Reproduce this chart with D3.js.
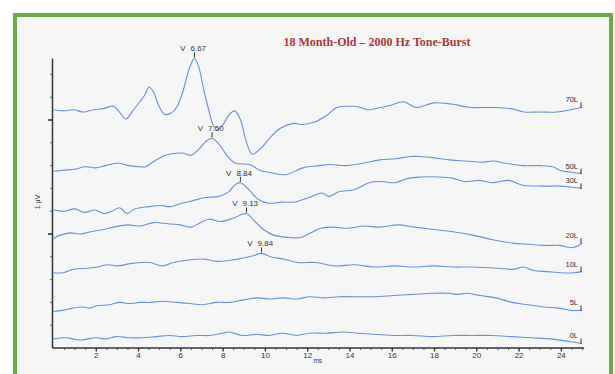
<!DOCTYPE html>
<html>
<head>
<meta charset="utf-8">
<script src="https://cdn.jsdelivr.net/npm/d3@7"></script>
<style>
  html, body { margin: 0; padding: 0; background: #ffffff; }
  svg { display: block; }
</style>
</head>
<body>
<svg id="chart" width="615" height="374"></svg>
<script>
// ABR waveforms, 18 month-old, 2000 Hz tone-burst.
// Each trace: [latency (ms), amplitude (µV, stacked display position)].
const title = "18 Month-Old \u2013 2000 Hz Tone-Burst";
const levels = ["70L", "50L", "30L", "20L", "10L", "5L", "0L"];
const timeTickLabels = [2, 4, 6, 8, 10, 12, 14, 16, 18, 20, 22, 24];
const ampTicks = [0.2, 0.4, 0.6, 0.8, 1.0, 1.2, 1.4, 1.6, 1.8, 2.0, 2.2, 2.4];
const ampMajor = [1.0, 2.0];

// Wave V latency marked on each trace (ms)
const waveVLevels = ["70L", "50L", "30L", "20L", "10L"];
const waveVLatency = [6.67, 7.50, 8.84, 9.13, 9.84];

const trace70L = [
  [0, 2.09], [0.47, 2.08], [0.95, 2.09], [1.42, 2.07], [1.89, 2.09], [2.37, 2.10],
  [2.70, 2.12], [2.86, 2.12], [3.12, 2.07], [3.42, 2.01], [3.75, 2.08], [4.08, 2.16],
  [4.32, 2.22], [4.52, 2.29], [4.72, 2.25], [4.97, 2.13], [5.25, 2.05], [5.55, 2.06],
  [5.82, 2.11], [6.12, 2.25], [6.42, 2.45], [6.67, 2.54], [6.88, 2.46], [7.10, 2.27],
  [7.34, 2.09], [7.50, 1.98], [7.72, 1.91], [8.02, 1.96], [8.32, 2.05], [8.58, 2.08],
  [8.85, 2.00], [9.09, 1.83], [9.40, 1.70], [9.80, 1.75], [10.27, 1.85], [10.75, 1.93],
  [11.36, 1.97], [11.80, 1.96], [12.31, 1.98], [12.92, 2.04], [13.40, 2.11], [14.06, 2.12],
  [14.53, 2.11], [14.82, 2.09], [15.48, 2.11], [15.95, 2.13], [16.57, 2.16], [17.14, 2.11],
  [17.99, 2.15], [18.79, 2.14], [19.74, 2.11], [20.69, 2.11], [21.63, 2.10], [22.25, 2.07],
  [23.05, 2.07], [23.81, 2.07], [24.47, 2.09], [25.0, 2.11]
];
const trace50L = [
  [0, 1.55], [0.55, 1.56], [1.04, 1.57], [1.51, 1.59], [1.99, 1.58], [2.46, 1.60],
  [3.03, 1.62], [3.60, 1.60], [4.07, 1.59], [4.36, 1.59], [4.69, 1.63], [5.30, 1.69],
  [6.11, 1.71], [6.49, 1.69], [6.91, 1.75], [7.20, 1.81], [7.50, 1.84], [7.86, 1.78],
  [8.24, 1.68], [8.62, 1.62], [9.28, 1.61], [9.75, 1.56], [10.22, 1.54], [10.98, 1.52],
  [11.79, 1.58], [12.59, 1.60], [13.07, 1.61], [13.82, 1.60], [14.63, 1.62], [15.43, 1.65],
  [16.19, 1.66], [16.85, 1.68], [17.33, 1.68], [17.94, 1.67], [18.75, 1.65], [19.50, 1.64],
  [20.31, 1.63], [20.78, 1.64], [21.40, 1.62], [22.20, 1.60], [23.01, 1.60], [23.62, 1.59],
  [23.95, 1.56], [24.57, 1.54], [25.0, 1.53]
];
const trace30L = [
  [0, 1.21], [0.53, 1.20], [1.00, 1.22], [1.48, 1.19], [1.95, 1.21], [2.38, 1.18],
  [2.76, 1.20], [3.13, 1.23], [3.47, 1.18], [3.84, 1.22], [4.51, 1.24], [5.12, 1.25],
  [5.50, 1.24], [6.07, 1.27], [6.54, 1.29], [7.16, 1.32], [7.82, 1.33], [8.29, 1.37],
  [8.58, 1.43], [8.84, 1.45], [9.24, 1.39], [9.71, 1.30], [10.19, 1.27], [10.80, 1.28],
  [11.42, 1.28], [12.08, 1.32], [12.70, 1.36], [13.03, 1.33], [13.50, 1.37], [14.26, 1.39],
  [14.92, 1.45], [15.54, 1.46], [16.15, 1.45], [16.81, 1.49], [17.43, 1.50], [18.23, 1.50],
  [18.85, 1.49], [19.47, 1.46], [20.13, 1.47], [20.74, 1.45], [21.55, 1.47], [22.16, 1.43],
  [23.11, 1.42], [23.92, 1.42], [24.54, 1.41], [25.0, 1.40]
];
const trace20L = [
  [0, 0.96], [0.33, 0.99], [0.80, 1.01], [1.28, 1.00], [1.75, 1.02], [2.37, 1.04],
  [2.84, 1.06], [3.50, 1.08], [4.12, 1.07], [4.73, 1.10], [5.40, 1.09], [6.01, 1.08],
  [6.49, 1.06], [6.96, 1.10], [7.34, 1.13], [7.91, 1.11], [8.52, 1.14], [9.13, 1.18],
  [9.47, 1.12], [9.94, 1.04], [10.41, 0.99], [11.08, 0.97], [11.69, 0.97], [12.17, 1.01],
  [12.64, 1.05], [13.25, 1.06], [13.92, 1.05], [14.67, 1.07], [15.48, 1.06], [16.28, 1.08],
  [17.10, 1.06], [17.99, 1.04], [18.90, 1.02], [19.83, 0.99], [20.78, 0.95], [21.73, 0.92],
  [22.49, 0.91], [23.20, 0.90], [23.95, 0.90], [24.47, 0.88], [24.85, 0.90], [25.0, 0.92]
];
const trace10L = [
  [0, 0.66], [0.46, 0.66], [0.93, 0.69], [1.60, 0.70], [2.07, 0.71], [2.54, 0.73],
  [3.02, 0.72], [3.63, 0.74], [4.10, 0.75], [4.58, 0.75], [5.15, 0.72], [5.67, 0.75],
  [6.33, 0.77], [7.09, 0.78], [7.75, 0.76], [8.36, 0.77], [8.98, 0.79], [9.45, 0.81],
  [9.84, 0.83], [10.26, 0.80], [10.88, 0.78], [11.54, 0.75], [12.39, 0.75], [13.33, 0.72],
  [14.23, 0.73], [15.18, 0.71], [16.13, 0.72], [17.03, 0.71], [17.97, 0.72], [18.92, 0.71],
  [19.82, 0.71], [21.00, 0.70], [21.76, 0.69], [22.23, 0.71], [22.71, 0.68], [23.37, 0.67],
  [23.99, 0.66], [24.60, 0.66], [25.0, 0.67]
];
const trace5L = [
  [0, 0.32], [0.43, 0.33], [0.90, 0.35], [1.38, 0.36], [1.71, 0.35], [2.04, 0.37],
  [2.66, 0.38], [3.13, 0.40], [3.60, 0.39], [4.08, 0.40], [4.55, 0.40], [5.16, 0.41],
  [5.83, 0.40], [6.44, 0.39], [7.06, 0.38], [7.72, 0.40], [8.34, 0.40], [8.95, 0.42],
  [9.62, 0.44], [10.23, 0.43], [10.86, 0.44], [11.51, 0.43], [12.12, 0.45], [12.80, 0.44],
  [13.50, 0.45], [14.21, 0.45], [15.16, 0.45], [16.10, 0.46], [17.00, 0.47], [17.95, 0.48],
  [18.70, 0.48], [19.08, 0.47], [19.56, 0.48], [20.17, 0.46], [20.93, 0.44], [21.68, 0.40],
  [22.44, 0.38], [23.15, 0.36], [23.91, 0.35], [24.48, 0.33], [25.0, 0.33]
];
const trace0L = [
  [0, 0.08], [0.60, 0.09], [1.22, 0.07], [2.02, 0.09], [2.49, 0.08], [2.97, 0.10],
  [3.58, 0.09], [4.20, 0.09], [4.86, 0.10], [5.48, 0.11], [6.09, 0.10], [6.75, 0.11],
  [7.37, 0.11], [7.99, 0.13], [8.32, 0.14], [8.93, 0.11], [9.60, 0.12], [10.21, 0.11],
  [10.83, 0.13], [11.49, 0.11], [12.11, 0.13], [12.90, 0.13], [13.67, 0.14], [14.40, 0.13],
  [15.13, 0.12], [16.08, 0.11], [16.98, 0.11], [17.93, 0.10], [18.88, 0.11], [19.77, 0.11],
  [20.72, 0.11], [21.67, 0.10], [22.57, 0.09], [23.51, 0.08], [24.27, 0.06], [25.0, 0.04]
];
const traces = [trace70L, trace50L, trace30L, trace20L, trace10L, trace5L, trace0L];

const svg = d3.select("#chart");

// Framed panel
svg.append("rect")
  .attr("x", 15).attr("y", 15)
  .attr("width", 596).attr("height", 380)
  .attr("fill", "#f6f6f6")
  .attr("stroke", "#6aab4e")
  .attr("stroke-width", 4);

const x = d3.scaleLinear().domain([0, 25]).range([53.5, 582]);
const y = d3.scaleLinear().domain([0, 2.0]).range([348, 120]);

const ink = "#333333";
const font = "'Liberation Sans', Arial, sans-serif";

// Title
svg.append("text")
  .attr("x", 377).attr("y", 45.5)
  .attr("text-anchor", "middle")
  .attr("font-family", "'Liberation Serif', 'Times New Roman', serif")
  .attr("font-weight", "bold")
  .attr("font-size", 12)
  .attr("fill", "#a83a3a")
  .text(title);

// Amplitude axis (left), ticks pointing outward
const yAxis = svg.append("g");
yAxis.append("line")
  .attr("x1", x(0) - 1).attr("x2", x(0) - 1)
  .attr("y1", y(0)).attr("y2", y(2.54))
  .attr("stroke", ink).attr("stroke-width", 1.5);
yAxis.selectAll("line.tick")
  .data(ampTicks)
  .join("line")
  .attr("class", "tick")
  .attr("x1", d => x(0) - 1 - (ampMajor.includes(d) ? 4.5 : 2.5))
  .attr("x2", x(0) - 1)
  .attr("y1", d => y(d)).attr("y2", d => y(d))
  .attr("stroke", ink)
  .attr("stroke-width", d => ampMajor.includes(d) ? 1.6 : 0.7);
svg.append("text")
  .attr("transform", `translate(39.5, ${y(1.28)}) rotate(-90)`)
  .attr("text-anchor", "middle")
  .attr("font-family", font)
  .attr("font-size", 7)
  .attr("fill", ink)
  .text("1 \u00B5V");

// Time axis (bottom)
const xAxisG = svg.append("g").attr("transform", `translate(0, ${y(0)})`);
xAxisG.call(
  d3.axisBottom(x)
    .tickValues(d3.range(0.5, 25.01, 0.5))
    .tickSize(2)
    .tickFormat("")
);
xAxisG.select(".domain")
  .attr("d", `M${x(0) - 1},0H${x(25.1)}`)
  .attr("stroke", ink).attr("stroke-width", 1.5);
xAxisG.selectAll(".tick line").attr("stroke", ink).attr("stroke-width", 0.8);
xAxisG.selectAll(".tick")
  .filter(d => timeTickLabels.includes(d))
  .select("line")
  .attr("y2", 3.5)
  .attr("stroke-width", 1.4);
xAxisG.selectAll(".tick")
  .filter(d => timeTickLabels.includes(d))
  .append("text")
  .attr("y", 10)
  .attr("fill", ink)
  .attr("font-family", font)
  .attr("font-size", 8)
  .attr("text-anchor", "middle")
  .text(d => d);
svg.append("text")
  .attr("x", x(12.5)).attr("y", 363)
  .attr("text-anchor", "middle")
  .attr("font-family", font)
  .attr("font-size", 6.5)
  .attr("fill", ink)
  .text("ms");

// Waveforms
const line = d3.line()
  .x(d => x(d[0]))
  .y(d => y(d[1]))
  .curve(d3.curveCatmullRom.alpha(0.5));

const waves = svg.append("g");
traces.forEach((tr, i) => {
  waves.append("path")
    .datum(tr)
    .attr("d", line)
    .attr("fill", "none")
    .attr("stroke", "#6393d5")
    .attr("stroke-width", 1.1)
    .attr("stroke-linejoin", "round");

  const last = tr[tr.length - 1];
  // End marker and level label
  waves.append("line")
    .attr("x1", x(last[0]) - 1).attr("x2", x(last[0]) - 1)
    .attr("y1", y(last[1]) - 5).attr("y2", y(last[1]) + 0.5)
    .attr("stroke", ink).attr("stroke-width", 1);
  waves.append("text")
    .attr("x", x(last[0]) - 4)
    .attr("y", y(last[1]) - 5)
    .attr("text-anchor", "end")
    .attr("font-family", font)
    .attr("font-size", 7.5)
    .attr("fill", ink)
    .text(levels[i]);
});

// Wave V markers
waveVLevels.forEach((lvl, i) => {
  const tr = traces[levels.indexOf(lvl)];
  const ms = waveVLatency[i];
  const pt = tr.find(d => d[0] === ms);
  const px = x(ms), py = y(pt[1]);
  const g = svg.append("g");
  g.append("line")
    .attr("x1", px).attr("x2", px)
    .attr("y1", py - 6).attr("y2", py - 1)
    .attr("stroke", ink).attr("stroke-width", 1);
  g.append("text")
    .attr("x", px - 9).attr("y", py - 7)
    .attr("text-anchor", "end")
    .attr("font-family", font)
    .attr("font-size", 8)
    .attr("fill", ink)
    .text("V");
  g.append("text")
    .attr("x", px - 4).attr("y", py - 7)
    .attr("text-anchor", "start")
    .attr("font-family", font)
    .attr("font-size", 8)
    .attr("fill", ink)
    .text(ms.toFixed(2));
});
</script>
</body>
</html>
